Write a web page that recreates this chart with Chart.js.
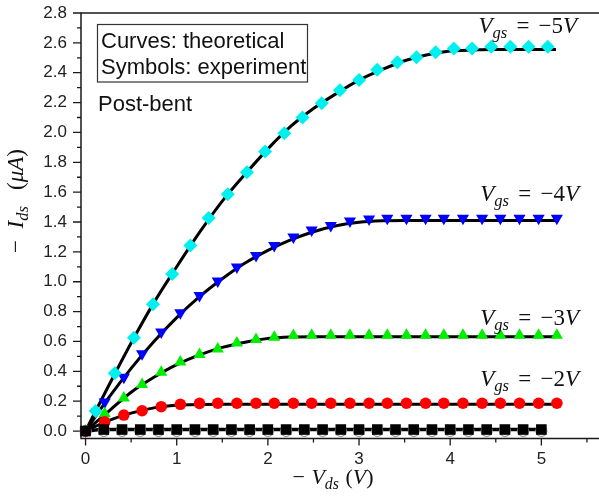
<!DOCTYPE html>
<html>
<head>
<meta charset="utf-8">
<script src="https://cdn.jsdelivr.net/npm/chart.js@4.4.0/dist/chart.umd.min.js"></script>
<style>
html, body { margin: 0; padding: 0; background: #fff; overflow: hidden; }
canvas { display: block; }
</style>
</head>
<body>
<canvas id="graph" width="599" height="497"></canvas>
<script>
var vdsCyan = [0.11, 0.32, 0.53, 0.74, 0.95, 1.15, 1.35, 1.56, 1.77, 1.97, 2.18, 2.38, 2.59, 2.79, 3.0, 3.2, 3.42, 3.63, 3.84, 4.04, 4.24, 4.45, 4.66, 4.86, 5.07];
var idsCyan = [0.134, 0.387, 0.625, 0.849, 1.052, 1.242, 1.427, 1.586, 1.734, 1.872, 1.995, 2.10, 2.196, 2.283, 2.352, 2.42, 2.47, 2.503, 2.537, 2.563, 2.563, 2.574, 2.574, 2.574, 2.574];

// blue, green and red symbols share the same Vds steps
var vdsSym = [0, 0.21, 0.42, 0.62, 0.83, 1.04, 1.25, 1.45, 1.66, 1.87, 2.07, 2.28, 2.48, 2.69, 2.9, 3.11, 3.31, 3.52, 3.73, 3.93, 4.14, 4.35, 4.55, 4.76, 4.97, 5.17];
var idsBlue = [0, 0.194, 0.361, 0.517, 0.663, 0.792, 0.908, 1.005, 1.098, 1.176, 1.243, 1.30, 1.346, 1.377, 1.407, 1.42, 1.425, 1.425, 1.425, 1.425, 1.425, 1.425, 1.425, 1.425, 1.425, 1.425];
var idsGreen = [0, 0.115, 0.222, 0.312, 0.394, 0.463, 0.513, 0.55, 0.59, 0.613, 0.629, 0.64, 0.641, 0.641, 0.641, 0.641, 0.641, 0.641, 0.641, 0.641, 0.641, 0.641, 0.641, 0.641, 0.641, 0.641];
var idsRed = [0, 0.062, 0.107, 0.136, 0.163, 0.179, 0.185, 0.186, 0.186, 0.186, 0.186, 0.186, 0.186, 0.186, 0.186, 0.186, 0.186, 0.186, 0.186, 0.186, 0.186, 0.186, 0.186, 0.186, 0.186, 0.186];

var vdsBlack = [0, 0.2, 0.4, 0.6, 0.8, 1.0, 1.2, 1.4, 1.6, 1.8, 2.0, 2.2, 2.4, 2.6, 2.8, 3.0, 3.2, 3.4, 3.6, 3.8, 4.0, 4.2, 4.4, 4.6, 4.8, 5.0];
var idsBlack = [0, 0.01, 0.01, 0.01, 0.01, 0.01, 0.01, 0.01, 0.01, 0.01, 0.01, 0.01, 0.01, 0.01, 0.01, 0.01, 0.01, 0.01, 0.01, 0.01, 0.01, 0.01, 0.01, 0.01, 0.01, 0.01];
var idsGrey = [0, 0, 0, 0, 0, 0, 0, 0, 0, 0, 0, 0, 0, 0, 0, 0, 0, 0, 0, 0, 0, 0, 0, 0, 0, 0];

// --- theoretical curves ---
var vdsCurve5 = [0, 0.25, 0.5, 0.75, 1, 1.25, 1.5, 1.75, 2, 2.25, 2.5, 2.75, 3, 3.25, 3.5, 3.75, 4, 4.25, 4.5, 5.16];
var idsCurve5 = [0, 0.30, 0.59, 0.86, 1.10, 1.33, 1.54, 1.72, 1.89, 2.04, 2.16, 2.26, 2.35, 2.42, 2.48, 2.52, 2.545, 2.552, 2.555, 2.555];
var vdsCurve4 = [0, 0.25, 0.5, 0.75, 1, 1.25, 1.5, 1.75, 2, 2.25, 2.5, 2.75, 3, 3.25, 3.5, 5.16];
var idsCurve4 = [0, 0.22, 0.42, 0.60, 0.76, 0.90, 1.02, 1.125, 1.21, 1.28, 1.335, 1.375, 1.398, 1.408, 1.41, 1.41];
var vdsCurve3 = [0, 0.25, 0.5, 0.75, 1, 1.25, 1.5, 1.75, 2, 2.25, 2.5, 5.16];
var idsCurve3 = [0, 0.13, 0.26, 0.36, 0.445, 0.51, 0.56, 0.595, 0.62, 0.63, 0.632, 0.632];
var vdsCurve2 = [0, 0.25, 0.5, 0.75, 1, 1.25, 1.5, 5.16];
var idsCurve2 = [0, 0.07, 0.12, 0.155, 0.172, 0.178, 0.18, 0.18];
var vdsCurve1 = [0, 0.2, 5.05];
var idsCurve1 = [0, 0.01, 0.01];

// --- axes ---
var xTickValues = [0, 1, 2, 3, 4, 5];
var yTickValues = [0, 0.2, 0.4, 0.6, 0.8, 1.0, 1.2, 1.4, 1.6, 1.8, 2.0, 2.2, 2.4, 2.6, 2.8];

// Vgs labels: text and the (Vds, Ids) spot where the text starts
var gateLabels = ['\u22125', '\u22124', '\u22123', '\u22122'];
var gateLabelVds = [4.31, 4.33, 4.33, 4.33];
var gateLabelIds = [2.667, 1.542, 0.71, 0.30];

function pts(xs, ys) {
    return xs.map(function(x, i) { return {x: x, y: ys[i]}; });
}

// draws a little "math" string piece by piece, returns its width
function drawMath(ctx, parts, x, y, size, measureOnly) {
    var cx = x;
    parts.forEach(function(p) {
        var t = p[0], kind = p[1];
        if (kind === 'gap') { cx += t * size; return; }
        var fs = kind === 's' ? size * 0.72 : size;
        var style = (kind === 'i' || kind === 's') ? 'italic ' : '';
        ctx.font = style + fs + 'px "Liberation Serif", "DejaVu Serif", serif';
        var dy = kind === 's' ? size * 0.22 : 0;
        if (!measureOnly) ctx.fillText(t, cx, y + dy);
        cx += ctx.measureText(t).width;
    });
    return cx - x;
}

// kill the automatic label padding so the plot box sits where we want it
function noPad(scale) {
    scale.paddingTop = 0;
    scale.paddingBottom = 0;
    scale.paddingLeft = 0;
    scale.paddingRight = 0;
}

var framePlugin = {
    id: 'frame',
    beforeDatasetsDraw: function(chart) {
        var ctx = chart.ctx, a = chart.chartArea;
        var xs = chart.scales.x, ys = chart.scales.y;
        ctx.save();
        ctx.strokeStyle = '#1a1a1a';
        ctx.lineWidth = 1.5;
        // frame: the right side runs off the picture
        ctx.beginPath();
        ctx.moveTo(chart.width + 5, a.top); ctx.lineTo(a.left, a.top);
        ctx.lineTo(a.left, a.bottom); ctx.lineTo(chart.width + 5, a.bottom);
        ctx.stroke();
        ctx.lineWidth = 1.3;
        ctx.beginPath();
        xTickValues.forEach(function(v) {
            var p = xs.getPixelForValue(v);
            ctx.moveTo(p, a.bottom); ctx.lineTo(p, a.bottom + 7);
        });
        for (var m = 0.5; m < 5.6; m += 1) {
            var p = xs.getPixelForValue(m);
            ctx.moveTo(p, a.bottom); ctx.lineTo(p, a.bottom + 4);
        }
        yTickValues.forEach(function(v) {
            var p = ys.getPixelForValue(v);
            ctx.moveTo(a.left, p); ctx.lineTo(a.left - 8, p);
        });
        for (var k = 1; k < 28; k += 2) {
            var q = ys.getPixelForValue(k / 10);
            ctx.moveTo(a.left, q); ctx.lineTo(a.left - 4, q);
        }
        ctx.stroke();
        ctx.restore();
    },
    afterDraw: function(chart) {
        var ctx = chart.ctx;
        var xs = chart.scales.x, ys = chart.scales.y;
        ctx.save();
        ctx.fillStyle = '#111';
        ctx.textBaseline = 'alphabetic';

        // Vgs labels
        gateLabels.forEach(function(lbl, i) {
            var px = xs.getPixelForValue(gateLabelVds[i]);
            var py = ys.getPixelForValue(gateLabelIds[i]);
            drawMath(ctx, [['V', 'i'], ['gs', 's'], [0.4, 'gap'], ['=', 'n'], [0.4, 'gap'], [lbl, 'n'], ['V', 'i']], px, py, 23);
        });

        // x axis title
        var xParts = [['\u2212', 'n'], [0.3, 'gap'], ['V', 'i'], ['ds', 's'], [0.3, 'gap'], ['(', 'n'], ['V', 'i'], [')', 'n']];
        var w = drawMath(ctx, xParts, 0, 0, 22, true);
        drawMath(ctx, xParts, 333 - w / 2, 484, 22);

        // y axis title
        var yParts = [['\u2212', 'n'], [0.5, 'gap'], ['I', 'i'], ['ds', 's'], [0.7, 'gap'], ['(', 'n'], ['\u03bc', 'i'], ['A', 'i'], [')', 'n']];
        var wy = drawMath(ctx, yParts, 0, 0, 23, true);
        ctx.translate(23, 201 + wy / 2);
        ctx.rotate(-Math.PI / 2);
        drawMath(ctx, yParts, 0, 0, 23);
        ctx.setTransform(1, 0, 0, 1, 0, 0);

        // note box
        ctx.font = '22px "Liberation Sans", Arial, sans-serif';
        ctx.fillStyle = '#111';
        ctx.fillText('Curves: theoretical', 101, 48);
        ctx.fillText('Symbols: experiment', 101, 74);
        ctx.fillText('Post-bent', 98, 111);
        ctx.strokeStyle = '#333';
        ctx.lineWidth = 1.2;
        ctx.strokeRect(97.5, 24.5, 210, 57.5);
        ctx.restore();
    }
};

var ctx = document.getElementById('graph').getContext('2d');

var symbolBase = { showLine: false, clip: false, borderWidth: 0, order: 0 };
var curveBase = { showLine: true, pointRadius: 0, borderColor: '#000', borderWidth: 3, cubicInterpolationMode: 'monotone', order: 2, clip: false };

var myChart = new Chart(ctx, {
    type: 'scatter',
    data: {
        datasets: [
            Object.assign({ data: pts(vdsCurve5, idsCurve5) }, curveBase),
            Object.assign({ data: pts(vdsCurve4, idsCurve4) }, curveBase),
            Object.assign({ data: pts(vdsCurve3, idsCurve3) }, curveBase),
            Object.assign({ data: pts(vdsCurve2, idsCurve2) }, curveBase),
            Object.assign({ data: pts(vdsCurve1, idsCurve1) }, curveBase, { borderWidth: 3.5 }),
            Object.assign({ data: pts(vdsBlack, idsGrey), pointStyle: 'circle', pointRadius: 5.5,
                backgroundColor: '#fff', borderColor: '#999' }, symbolBase, { order: 1, borderWidth: 1.2 }),
            Object.assign({ data: pts(vdsBlack, idsBlack), pointStyle: 'rect', pointRadius: 7.5,
                backgroundColor: '#000' }, symbolBase),
            Object.assign({ data: pts(vdsSym, idsRed), pointStyle: 'circle', pointRadius: 5.8,
                backgroundColor: '#ff0000' }, symbolBase),
            Object.assign({ data: pts(vdsSym, idsGreen), pointStyle: 'triangle', pointRadius: 7,
                backgroundColor: '#00ee00' }, symbolBase),
            Object.assign({ data: pts(vdsCyan, idsCyan), pointStyle: 'rectRot', pointRadius: 7,
                backgroundColor: '#00f0f0' }, symbolBase),
            Object.assign({ data: pts(vdsSym, idsBlue), pointStyle: 'triangle', pointRotation: 180, pointRadius: 7,
                backgroundColor: '#0000ff' }, symbolBase)
        ]
    },
    options: {
        responsive: false,
        animation: false,
        layout: { padding: { top: 13, right: 0, left: 0, bottom: 0 } },
        plugins: { legend: { display: false }, tooltip: { enabled: false } },
        scales: {
            x: {
                type: 'linear',
                min: -0.05,
                max: 5.55,
                grid: { display: false, drawTicks: false },
                border: { display: false },
                afterBuildTicks: function(scale) {
                    scale.ticks = xTickValues.map(function(v) { return { value: v }; });
                },
                afterFit: function(scale) { scale.height = 58.5; noPad(scale); },
                ticks: {
                    padding: 11,
                    color: '#222',
                    font: { family: '"Liberation Sans", Arial, sans-serif', size: 17 },
                    callback: function(v) { return String(v); }
                }
            },
            y: {
                type: 'linear',
                min: -0.05,
                max: 2.8,
                grid: { display: false, drawTicks: false },
                border: { display: false },
                afterBuildTicks: function(scale) {
                    scale.ticks = yTickValues.map(function(v) { return { value: v }; });
                },
                afterFit: function(scale) { scale.width = 81; noPad(scale); },
                ticks: {
                    padding: 14,
                    color: '#222',
                    font: { family: '"Liberation Sans", Arial, sans-serif', size: 17 },
                    callback: function(v) { return v.toFixed(1); }
                }
            }
        }
    },
    plugins: [framePlugin]
});
</script>
</body>
</html>
